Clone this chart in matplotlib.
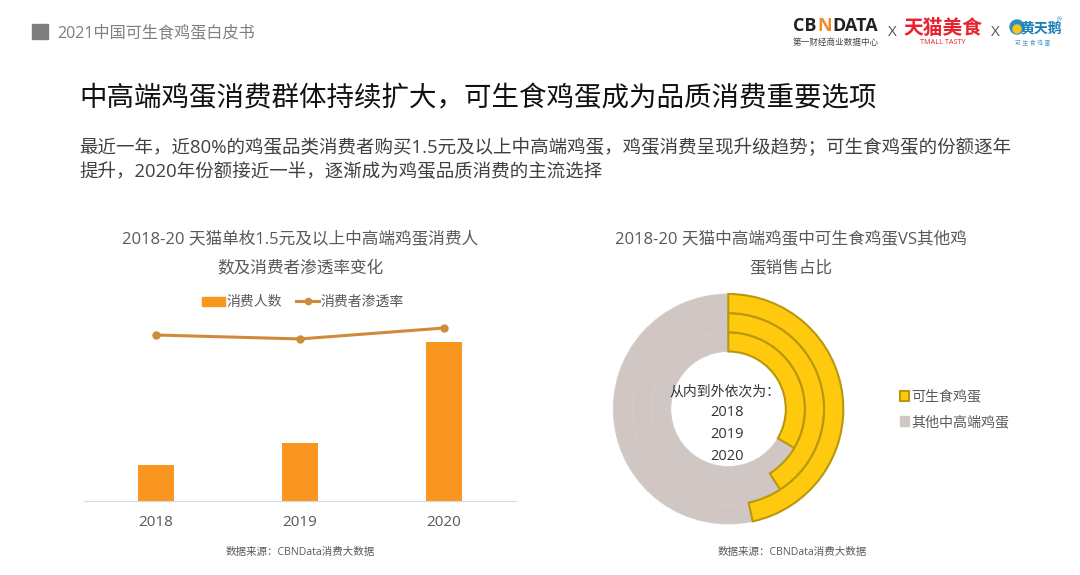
import matplotlib
matplotlib.use('Agg')
import matplotlib.pyplot as plt
from matplotlib.lines import Line2D
from matplotlib.patches import Ellipse, Patch, Rectangle

plt.rcParams['font.family'] = ['Open Sans', 'Noto Sans CJK SC', 'DejaVu Sans']

W, H = 1080, 575

years = ['2018', '2019', '2020']
consumers = [36, 58, 159]              # index, no axis in the original
penetration = [75.8, 74.0, 79.0]       # %, estimated
tmall_share = [33.5, 40.9, 46.6]       # inner to outer ring
other_share = [66.5, 59.1, 53.4]

header = '2021中国可生食鸡蛋白皮书'
headline = '中高端鸡蛋消费群体持续扩大，可生食鸡蛋成为品质消费重要选项'
body_lines = ['最近一年，近80%的鸡蛋品类消费者购买1.5元及以上中高端鸡蛋，鸡蛋消费呈现升级趋势；可生食鸡蛋的份额逐年',
              '提升，2020年份额接近一半，逐渐成为鸡蛋品质消费的主流选择']
left_title = ['2018-20 天猫单枚1.5元及以上中高端鸡蛋消费人', '数及消费者渗透率变化']
right_title = ['2018-20 天猫中高端鸡蛋中可生食鸡蛋VS其他鸡', '蛋销售占比']
source = '数据来源：CBNData消费大数据'

BAR = '#F99620'
LINE = '#D08A3C'
YELLOW = '#FFC90E'
YELLOW_EDGE = '#B9980F'
GREY = '#D0C6C3'
TXT = '#595959'


def px_axes(fig, left, top, right, bottom):
    return fig.add_axes([left / W, 1 - bottom / H, (right - left) / W, (bottom - top) / H])


def put(fig, x, y, s, size, color=TXT, ha='left', **kw):
    return fig.text(x / W, 1 - y / H, s, fontsize=size, color=color, ha=ha, va='center', **kw)


def dot(fig, x, y, d, color):
    fig.add_artist(Ellipse((x / W, 1 - y / H), d / W, d / H, transform=fig.transFigure, color=color))


fig = plt.figure(figsize=(W / 100, H / 100), dpi=100, facecolor='white')

# header
fig.add_artist(Rectangle((32 / W, 1 - 39 / H), 16 / W, 15 / H, transform=fig.transFigure, color='#7F7F7F'))
put(fig, 57, 33, header, 11.6, '#7F7F7F')

# logos, as text
put(fig, 793, 26, 'CB', 13, '#222222', weight='bold')
put(fig, 817, 26, 'N', 13, '#F08A24', weight='bold')
put(fig, 832, 26, 'DATA', 13, '#222222', weight='bold')
put(fig, 793, 42, '第一财经商业数据中心', 6.2, '#444444')
put(fig, 892, 33, 'X', 11, '#555555', ha='center')
put(fig, 943, 29, '天猫美食', 14.2, '#E8212E', ha='center', weight='bold')
put(fig, 943, 43, 'TMALL TASTY', 5.2, '#E8212E', ha='center')
put(fig, 995, 33, 'X', 11, '#555555', ha='center')
dot(fig, 1017, 27, 14, '#2C8FC4')
dot(fig, 1017, 29, 8, '#F5C518')
put(fig, 1041, 28, '黄天鹅', 10, '#1E7FB8', ha='center', weight='bold')
put(fig, 1059, 20, '®', 4.5, '#1E7FB8', ha='center')
put(fig, 1033, 43, '可 生 食 鸡 蛋', 4.2, '#4A9CC8', ha='center')

# headline and body
put(fig, 79, 99, headline, 19.8, '#111111')
put(fig, 79, 148, body_lines[0], 13.3, '#404040')
put(fig, 79, 173, body_lines[1], 13.3, '#404040')

# left chart
put(fig, 300, 240, left_title[0], 12, ha='center')
put(fig, 300, 269, left_title[1], 12, ha='center')

ax = px_axes(fig, 84, 320, 516, 501)
xs = range(len(years))
ax.bar(xs, consumers, width=0.25, color=BAR)
ax.set_xlim(-0.5, 2.5)
ax.set_ylim(0, 181)
ax.set_yticks([])
ax.set_xticks(list(xs), years)
ax.tick_params(axis='x', length=0, pad=10, labelsize=11, labelcolor=TXT)
for side in ['top', 'left', 'right']:
    ax.spines[side].set_visible(False)
ax.spines['bottom'].set_color('#D9D9D9')
ax.patch.set_alpha(0)

ax2 = ax.twinx()
ax2.plot(xs, penetration, color=LINE, lw=2.2, marker='o', ms=5)
ax2.set_ylim(0, 82.65)
ax2.set_yticks([])
for side in ax2.spines:
    ax2.spines[side].set_visible(False)

fig.legend(handles=[Patch(color=BAR, label='消费人数'),
                    Line2D([0], [0], color=LINE, lw=2.2, marker='o', ms=4.5, label='消费者渗透率')],
           loc='center', bbox_to_anchor=(303 / W, 1 - 302.5 / H), ncol=2, frameon=False,
           fontsize=10, labelcolor=TXT, handlelength=1.65, handleheight=0.6,
           handletextpad=0.1, columnspacing=1.0)

# right chart
put(fig, 791, 240, right_title[0], 12, ha='center')
put(fig, 791, 269, right_title[1], 12, ha='center')

pie = px_axes(fig, 728.3 - 120.75, 409 - 120.75, 728.3 + 120.75, 409 + 120.75)
radii = [0.5 + 0.1667 * (i + 1) for i in range(3)]
for i in reversed(range(3)):
    wedges, _ = pie.pie([tmall_share[i], other_share[i]], radius=radii[i], startangle=90,
                        counterclock=False, colors=[YELLOW, GREY],
                        wedgeprops=dict(width=0.1667))
    wedges[1].set_edgecolor('#D5CCC9')
    wedges[1].set_linewidth(0.6)
for i in range(3):
    # redraw yellow on top so its edge is not covered by the grey ring
    wedges, _ = pie.pie([tmall_share[i], other_share[i]], radius=radii[i], startangle=90,
                        counterclock=False, colors=[YELLOW, 'none'],
                        wedgeprops=dict(width=0.1667))
    wedges[0].set_edgecolor(YELLOW_EDGE)
    wedges[0].set_linewidth(1.5)
    wedges[1].set_visible(False)
pie.set_xlim(-1.05, 1.05)
pie.set_ylim(-1.05, 1.05)

put(fig, 725, 392, '从内到外依次为：', 10, '#333333', ha='center')
for y, label in zip([413, 435, 456], years):
    put(fig, 727, y, label, 10.5, '#333333', ha='center')

fig.legend(handles=[Patch(facecolor=YELLOW, edgecolor=YELLOW_EDGE, lw=1.5, label='可生食鸡蛋'),
                    Patch(facecolor=GREY, edgecolor=GREY, label='其他中高端鸡蛋')],
           loc='center left', bbox_to_anchor=(887 / W, 1 - 410 / H), frameon=False,
           fontsize=10.1, labelcolor=TXT, handlelength=0.7, handleheight=0.7,
           handletextpad=0.15, labelspacing=0.75)

# sources
put(fig, 300, 552, source, 7.6, ha='center')
put(fig, 792, 552, source, 7.6, ha='center')

fig.savefig('out.png', dpi=100, facecolor='white')
